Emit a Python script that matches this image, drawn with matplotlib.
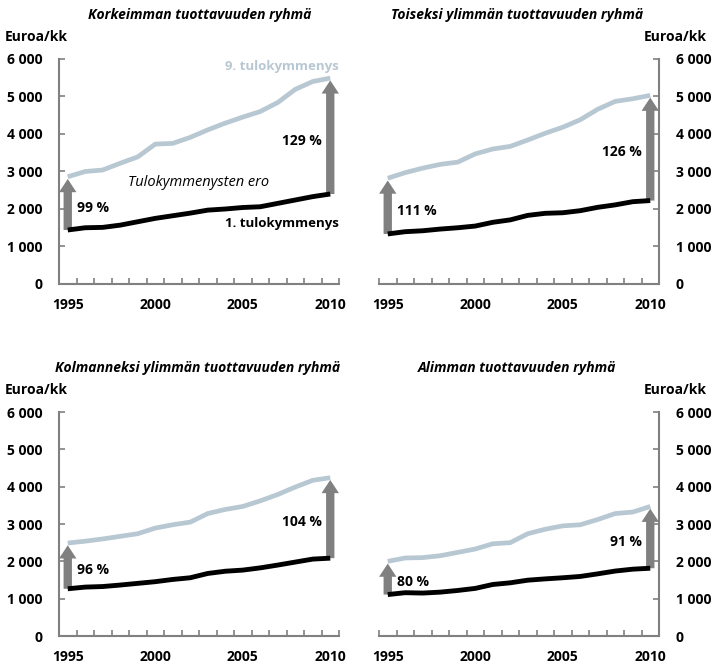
import numpy as np
import matplotlib
matplotlib.use("Agg")
import matplotlib.pyplot as plt
from matplotlib.patches import FancyArrowPatch

plt.rcParams['font.family'] = ['Open Sans', 'DejaVu Sans']

years = list(range(1995, 2011))
year_labels = ['1995', '2000', '2005', '2010']

titles = ['Korkeimman tuottavuuden ryhmä',
          'Toiseksi ylimmän tuottavuuden ryhmä',
          'Kolmanneksi ylimmän tuottavuuden ryhmä',
          'Alimman tuottavuuden ryhmä']

# 9. tulokymmenys (light line)
top_1 = [2860, 3000, 3040, 3220, 3390, 3730, 3750, 3910, 4110, 4290, 4450, 4600, 4840, 5190, 5400, 5490]
top_2 = [2820, 2970, 3090, 3190, 3250, 3470, 3600, 3670, 3840, 4020, 4180, 4380, 4660, 4870, 4940, 5030]
top_3 = [2490, 2540, 2600, 2670, 2740, 2890, 2980, 3050, 3280, 3390, 3470, 3620, 3790, 3990, 4170, 4240]
top_4 = [2000, 2090, 2100, 2150, 2240, 2330, 2470, 2500, 2740, 2860, 2950, 2980, 3120, 3280, 3320, 3470]

# 1. tulokymmenys (dark line)
low_1 = [1440, 1500, 1510, 1570, 1660, 1750, 1820, 1890, 1970, 2000, 2040, 2060, 2150, 2240, 2330, 2400]
low_2 = [1335, 1395, 1420, 1465, 1500, 1545, 1645, 1710, 1830, 1885, 1900, 1955, 2045, 2110, 2195, 2225]
low_3 = [1265, 1310, 1325, 1365, 1410, 1455, 1515, 1560, 1675, 1735, 1765, 1825, 1900, 1980, 2060, 2085]
low_4 = [1110, 1160, 1150, 1175, 1220, 1275, 1380, 1425, 1495, 1530, 1560, 1595, 1665, 1740, 1790, 1815]

pct_start = ['99 %', '111 %', '96 %', '80 %']
pct_end = ['129 %', '126 %', '104 %', '91 %']

tops = [top_1, top_2, top_3, top_4]
lows = [low_1, low_2, low_3, low_4]

light = '#b8c8d3'
gray = '#808080'
fs = 10

W, H = 714, 665
fig = plt.figure(figsize=(W / 100, H / 100), dpi=100)

# axes boxes in pixels: left, top, right, bottom
boxes = [(59, 59, 339, 284), (379, 59, 659, 284),
         (59, 412, 339, 636), (379, 412, 659, 636)]
title_x = [200, 517, 198, 517]

x = np.arange(len(years))

for k in range(4):
    l, t, r, b = boxes[k]
    ax = fig.add_axes([l / W, 1 - b / H, (r - l) / W, (b - t) / H])
    right = k % 2 == 1
    top = np.array(tops[k])
    low = np.array(lows[k])

    ax.plot(x, top, color=light, lw=3.4, solid_capstyle='butt', zorder=3)
    ax.plot(x, low, color='black', lw=3.5, solid_capstyle='butt', zorder=3)

    for i in [0, len(x) - 1]:
        arr = FancyArrowPatch((x[i], low[i]), (x[i], top[i] - 60),
                              arrowstyle='simple,head_length=0.95,head_width=1.25,tail_width=0.6',
                              mutation_scale=10, color=gray, lw=0,
                              shrinkA=0, shrinkB=0, zorder=2)
        ax.add_patch(arr)

    mid0 = (top[0] + low[0]) / 2 - 120
    mid1 = (top[-1] + low[-1]) / 2 - 120
    ax.text(0.55, mid0, pct_start[k], ha='left', va='center',
            fontsize=fs, fontweight='bold')
    ax.text(14.5, mid1, pct_end[k], ha='right', va='center',
            fontsize=fs, fontweight='bold')

    ax.set_xlim(-0.5, len(x) - 0.5)
    ax.set_ylim(0, 6000)
    ax.set_xticks(np.arange(-0.5, len(x), 1.0))
    ax.set_xticks([years.index(int(y)) for y in year_labels], minor=True)
    ax.set_xticklabels([])
    ax.set_xticklabels(year_labels, minor=True, fontsize=fs, fontweight='bold')
    ax.tick_params(axis='x', which='major', direction='in', length=4,
                   width=1.2, color=gray)
    ax.tick_params(axis='x', which='minor', length=0, pad=10)
    ax.set_yticks(range(0, 6001, 1000))
    ax.set_yticklabels(['0', '1 000', '2 000', '3 000', '4 000', '5 000', '6 000'],
                       fontsize=fs, fontweight='bold')
    ax.tick_params(axis='y', direction='in', length=4, width=1.2, color=gray,
                   pad=12)

    for s in ax.spines.values():
        s.set_color(gray)
        s.set_linewidth(1.5)
    ax.spines['top'].set_visible(False)
    if right:
        ax.spines['left'].set_visible(False)
        ax.yaxis.tick_right()
    else:
        ax.spines['right'].set_visible(False)

    # title and unit label
    fig.text(title_x[k] / W, 1 - (t - 44) / H, titles[k], ha='center',
             va='center', fontsize=fs, fontweight='bold', style='italic')
    if right:
        fig.text(707 / W, 1 - (t - 22) / H, 'Euroa/kk', ha='right',
                 va='center', fontsize=fs, fontweight='bold')
    else:
        fig.text(5 / W, 1 - (t - 22) / H, 'Euroa/kk', ha='left',
                 va='center', fontsize=fs, fontweight='bold')

    if k == 0:
        ax.text(15.5, 5800, '9. tulokymmenys', ha='right', va='center',
                fontsize=9.5, fontweight='bold', color=light)
        ax.text(15.5, 1620, '1. tulokymmenys', ha='right', va='center',
                fontsize=9.5, fontweight='bold', color='black')
        ax.text(7.45, 2710, 'Tulokymmenysten ero', ha='center', va='center',
                fontsize=10.5, style='italic')

fig.savefig('out.png', dpi=100)
